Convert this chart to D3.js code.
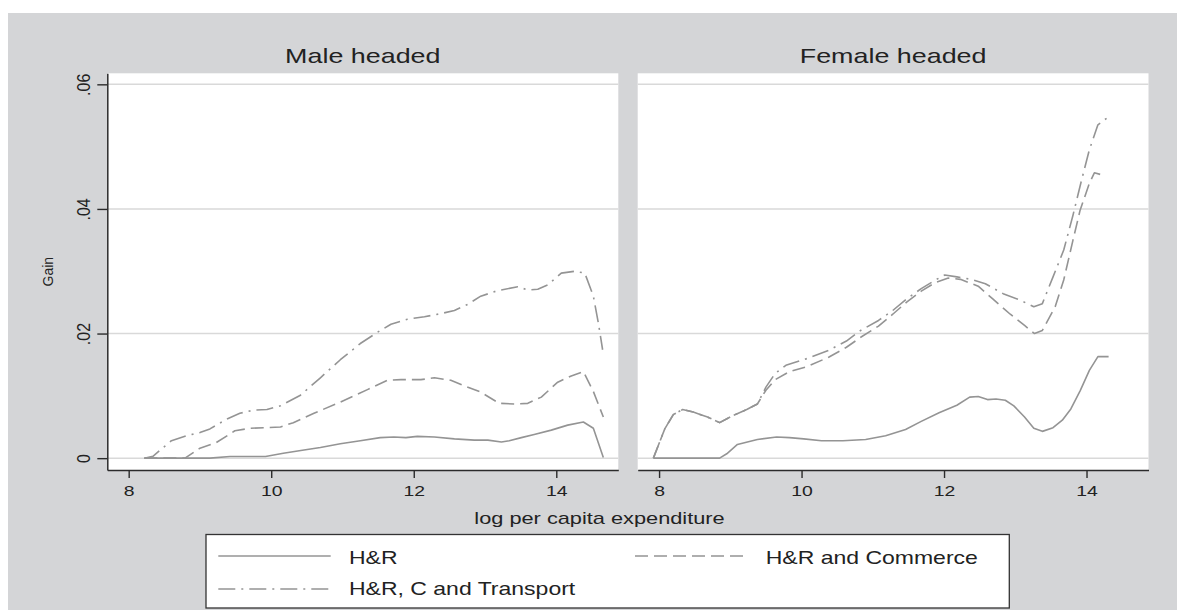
<!DOCTYPE html>
<html>
<head>
<meta charset="utf-8">
<script src="https://cdn.jsdelivr.net/npm/d3@7"></script>
<style>
  html, body { margin: 0; padding: 0; background: #ffffff; }
  svg { display: block; }
  text { font-family: "Liberation Sans", Arial, Helvetica, sans-serif; fill: #222; }
</style>
</head>
<body>
<svg id="chart" width="1177" height="610"></svg>
<script>
// ---------- DATA ----------
const panelTitles = ["Male headed", "Female headed"];
const seriesNames = ["H&R", "H&R and Commerce", "H&R, C and Transport"];
const xTickValues = [8, 10, 12, 14];
const yTickValues = [0, 0.02, 0.04, 0.06];
const yTickLabels = ["0", ".02", ".04", ".06"];
const xAxisTitle = "log per capita expenditure";
const yAxisTitle = "Gain";

// Male headed
const maleHR_x = [8.22, 9.14, 9.42, 9.92, 10.17, 10.46, 10.69, 10.97, 11.25, 11.53, 11.72, 11.89, 12.05, 12.29, 12.57, 12.85, 13.04, 13.23, 13.34, 13.51, 13.69, 13.93, 14.16, 14.38, 14.52, 14.66];
const maleHR_y = [0, 0, 0.00027, 0.00027, 0.0008, 0.0013, 0.0017, 0.0023, 0.0028, 0.0033, 0.0034, 0.0033, 0.0035, 0.0034, 0.0031, 0.0029, 0.0029, 0.0026, 0.0028, 0.0033, 0.0038, 0.0045, 0.0053, 0.0058, 0.0048, 0.0001];

const maleHRC_x = [8.22, 8.79, 9.0, 9.23, 9.49, 9.70, 9.94, 10.13, 10.31, 10.60, 10.97, 11.35, 11.63, 11.82, 12.10, 12.29, 12.52, 12.71, 12.94, 13.20, 13.41, 13.60, 13.79, 14.02, 14.21, 14.38, 14.52, 14.66];
const maleHRC_y = [0, 0, 0.0016, 0.0025, 0.0044, 0.0048, 0.0049, 0.005, 0.0057, 0.0072, 0.009, 0.011, 0.0125, 0.0126, 0.0126, 0.0129, 0.0125, 0.0116, 0.0106, 0.0088, 0.0087, 0.0088, 0.0098, 0.0122, 0.0132, 0.0139, 0.0107, 0.0066];

const maleHRCT_x = [8.22, 8.34, 8.60, 8.81, 9.0, 9.14, 9.38, 9.56, 9.75, 9.94, 10.13, 10.41, 10.69, 10.97, 11.25, 11.49, 11.68, 11.91, 12.15, 12.38, 12.57, 12.76, 12.94, 13.18, 13.46, 13.60, 13.74, 13.88, 14.07, 14.26, 14.40, 14.52, 14.59, 14.65];
const maleHRCT_y = [0, 0.0003, 0.0028, 0.0036, 0.0041, 0.0047, 0.0063, 0.0072, 0.0077, 0.0078, 0.0084, 0.0101, 0.0129, 0.0158, 0.0184, 0.0202, 0.0215, 0.0223, 0.0227, 0.0232, 0.0237, 0.0247, 0.026, 0.0269, 0.0275, 0.027, 0.0271, 0.0278, 0.0297, 0.030, 0.0297, 0.026, 0.0217, 0.0174];

// Female headed
const femHR_x = [7.92, 8.85, 8.95, 9.10, 9.38, 9.65, 9.83, 10.03, 10.28, 10.58, 10.90, 11.18, 11.46, 11.68, 11.93, 12.18, 12.36, 12.48, 12.61, 12.73, 12.86, 12.98, 13.13, 13.26, 13.38, 13.53, 13.66, 13.78, 13.91, 14.04, 14.16, 14.31];
const femHR_y = [0, 0, 0.0007, 0.0022, 0.003, 0.0034, 0.0033, 0.0031, 0.0028, 0.0028, 0.003, 0.0036, 0.0046, 0.0059, 0.0073, 0.0085, 0.0098, 0.0099, 0.0094, 0.0095, 0.0093, 0.0084, 0.0066, 0.0048, 0.0043, 0.0049, 0.0061, 0.0079, 0.0108, 0.0141, 0.0163, 0.0163];

const femHRC_x = [7.92, 8.08, 8.20, 8.33, 8.48, 8.68, 8.85, 9.03, 9.23, 9.38, 9.50, 9.63, 9.83, 10.08, 10.38, 10.63, 10.83, 11.08, 11.28, 11.48, 11.68, 11.88, 12.06, 12.23, 12.48, 12.68, 12.93, 13.13, 13.27, 13.38, 13.56, 13.68, 13.81, 13.91, 14.04, 14.11, 14.24];
const femHRC_y = [0, 0.0047, 0.007, 0.0078, 0.0074, 0.0066, 0.0057, 0.0068, 0.0078, 0.0087, 0.0109, 0.0126, 0.0139, 0.0147, 0.0162, 0.0178, 0.0194, 0.0212, 0.0231, 0.0251, 0.0268, 0.0282, 0.0289, 0.0287, 0.0276, 0.0256, 0.0231, 0.0213, 0.020, 0.0205, 0.0243, 0.0286, 0.035, 0.0398, 0.0441, 0.0458, 0.0454];

const femHRCT_x = [7.92, 8.08, 8.20, 8.33, 8.48, 8.68, 8.85, 9.03, 9.23, 9.38, 9.50, 9.63, 9.78, 10.08, 10.38, 10.63, 10.83, 11.08, 11.28, 11.48, 11.68, 11.88, 12.01, 12.18, 12.38, 12.58, 12.83, 13.08, 13.26, 13.38, 13.53, 13.68, 13.81, 13.93, 14.04, 14.16, 14.31];
const femHRCT_y = [0, 0.0047, 0.007, 0.0078, 0.0074, 0.0066, 0.0057, 0.0068, 0.0078, 0.0087, 0.0114, 0.0136, 0.0149, 0.016, 0.0173, 0.0188, 0.0205, 0.0221, 0.0237, 0.0256, 0.0272, 0.0286, 0.0294, 0.0291, 0.0287, 0.028, 0.0264, 0.0253, 0.0243, 0.0248, 0.0291, 0.0334, 0.039, 0.0446, 0.0495, 0.0535, 0.0548];

// ---------- STYLE / LAYOUT ----------
const lineColor = "#949494";
const gridColor = "#d9d9d9";
const axisColor = "#2b2b2b";
const bgColor = "#d4d5d7";
const dashes = ["none", "13,6", "17,6,2,6"];
const sx = 1.28; // horizontal stretch of the original text rendering

const svg = d3.select("#chart");
svg.append("rect").attr("x", 0).attr("y", 0).attr("width", 1177).attr("height", 610).attr("fill", "#ffffff");
svg.append("rect").attr("x", 8).attr("y", 13).attr("width", 1169).attr("height", 597).attr("fill", bgColor);

const plotTop = 73.3, plotBottom = 470;
const panels = [
  { left: 107.3, right: 618.3, title: panelTitles[0],
    series: [[maleHR_x, maleHR_y], [maleHRC_x, maleHRC_y], [maleHRCT_x, maleHRCT_y]], yAxis: true },
  { left: 637.7, right: 1148.5, title: panelTitles[1],
    series: [[femHR_x, femHR_y], [femHRC_x, femHRC_y], [femHRCT_x, femHRCT_y]], yAxis: false }
];

const y = d3.scaleLinear().domain([-0.0019, 0.06177]).range([plotBottom, plotTop]);

panels.forEach(p => {
  const x = d3.scaleLinear().domain([7.70, 14.87]).range([p.left, p.right]);
  const g = svg.append("g");
  g.append("rect").attr("x", p.left).attr("y", plotTop).attr("width", p.right - p.left).attr("height", plotBottom - plotTop).attr("fill", "#ffffff");

  // gridlines
  g.selectAll("line.grid").data(yTickValues).join("line")
    .attr("class", "grid")
    .attr("x1", p.left).attr("x2", p.right)
    .attr("y1", d => y(d)).attr("y2", d => y(d))
    .attr("stroke", gridColor).attr("stroke-width", 1.5);

  // title
  g.append("text")
    .attr("transform", `translate(${(p.left + p.right) / 2},63) scale(${sx},1)`)
    .attr("text-anchor", "middle").attr("font-size", 21).text(p.title);

  // series
  const line = d3.line().x(d => x(d[0])).y(d => y(d[1]));
  p.series.forEach((s, i) => {
    const pts = s[0].map((v, k) => [v, s[1][k]]);
    g.append("path").datum(pts).attr("d", line)
      .attr("fill", "none").attr("stroke", lineColor).attr("stroke-width", 1.6)
      .attr("stroke-dasharray", dashes[i]).attr("stroke-linejoin", "round");
  });

  // x axis
  const xa = g.append("g").attr("transform", `translate(0,${plotBottom})`)
    .call(d3.axisBottom(x).tickValues(xTickValues).tickSize(8).tickSizeOuter(0).tickFormat(d3.format("d")));
  xa.select(".domain").attr("stroke", axisColor).attr("stroke-width", 1.5);
  xa.selectAll(".tick line").attr("stroke", axisColor).attr("stroke-width", 1.4);
  xa.selectAll(".tick text")
    .attr("y", null).attr("dy", null)
    .attr("transform", `translate(0,26) scale(1.25,1)`)
    .attr("font-size", 15.5).attr("fill", "#222").attr("font-family", null);

  if (p.yAxis) {
    const ya = g.append("g").attr("transform", `translate(${p.left},0)`)
      .call(d3.axisLeft(y).tickValues(yTickValues).tickSize(10).tickSizeOuter(0)
        .tickFormat((d, i) => yTickLabels[i]));
    ya.select(".domain").attr("stroke", axisColor).attr("stroke-width", 1.5);
    ya.selectAll(".tick line").attr("stroke", axisColor).attr("stroke-width", 1.4);
    ya.selectAll(".tick text")
      .attr("x", null).attr("dy", null)
      .attr("transform", `translate(-17.3,0) scale(1.15,1) rotate(-90)`)
      .attr("text-anchor", "middle")
      .attr("font-size", 16).attr("fill", "#222").attr("font-family", null);
  }
});

// axis titles
svg.append("text")
  .attr("transform", `translate(599.5,524) scale(${sx},1)`)
  .attr("text-anchor", "middle").attr("font-size", 17).text(xAxisTitle);
svg.append("text")
  .attr("transform", `translate(53.3,${(plotTop + plotBottom) / 2}) rotate(-90)`)
  .attr("text-anchor", "middle").attr("font-size", 14).text(yAxisTitle);

// legend
const lg = svg.append("g");
lg.append("rect").attr("x", 206).attr("y", 534.5).attr("width", 803.3).attr("height", 73.5)
  .attr("fill", "#ffffff").attr("stroke", "#333").attr("stroke-width", 1.3);
const legendItems = [
  { x0: 218.3, x1: 330.7, tx: 349, ly: 556, ty: 563.7 },
  { x0: 635, x1: 747.7, tx: 765.7, ly: 556, ty: 563.7 },
  { x0: 218.3, x1: 330.7, tx: 349, ly: 589, ty: 595 }
];
legendItems.forEach((it, i) => {
  lg.append("line").attr("x1", it.x0).attr("x2", it.x1).attr("y1", it.ly).attr("y2", it.ly)
    .attr("stroke", lineColor).attr("stroke-width", 1.6).attr("stroke-dasharray", dashes[i]);
  lg.append("text").attr("transform", `translate(${it.tx},${it.ty}) scale(1.3,1)`)
    .attr("font-size", 17.7).text(seriesNames[i]);
});
</script>
</body>
</html>
